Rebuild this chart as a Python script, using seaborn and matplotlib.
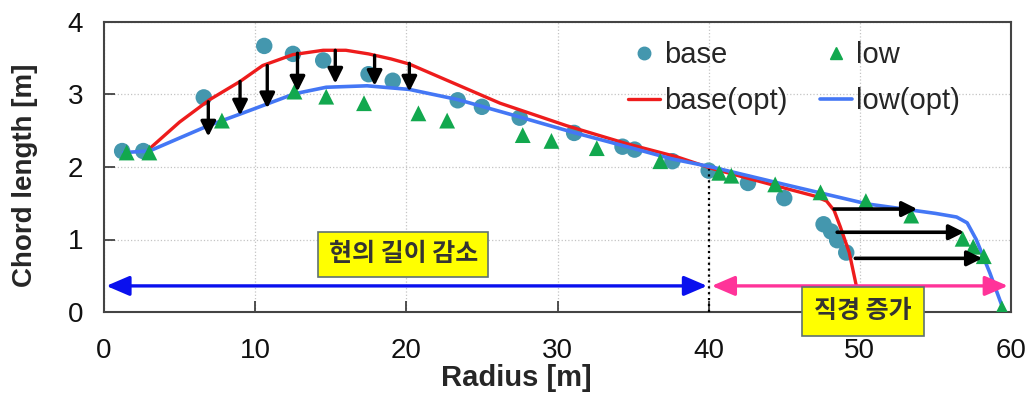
import matplotlib
matplotlib.use("Agg")
import matplotlib.pyplot as plt
from matplotlib.lines import Line2D
import seaborn as sns
import pandas as pd

# ---- data ----
base_r = [1.2, 2.6, 6.6, 10.6, 12.5, 14.5, 17.5, 19.1, 23.4, 25.0, 27.5, 31.1, 34.3, 35.1,
          37.6, 40.0, 42.6, 45.0, 47.6, 48.1, 48.5, 49.1]
base_c = [2.22, 2.22, 2.96, 3.67, 3.56, 3.47, 3.28, 3.19, 2.92, 2.83, 2.68, 2.47, 2.28, 2.24,
          2.08, 1.95, 1.78, 1.57, 1.21, 1.11, 0.99, 0.82]

low_r = [1.5, 3.0, 7.8, 12.6, 14.7, 17.2, 20.8, 22.7, 27.7, 29.6, 32.6, 36.8, 40.7, 41.5,
         44.4, 47.4, 50.4, 53.4, 56.8, 57.5, 58.2, 59.4]
low_c = [2.20, 2.20, 2.64, 3.04, 2.97, 2.88, 2.74, 2.64, 2.44, 2.36, 2.26, 2.08, 1.92, 1.88,
         1.76, 1.65, 1.53, 1.33, 1.01, 0.90, 0.77, 0.05]

opt_base_r = [3.0, 5.0, 7.0, 9.0, 10.5, 12.5, 14.5, 16.0, 17.5, 19.0, 20.2, 22.2, 26.2, 30.6,
              34.6, 37.9, 40.2, 42.5, 45.0, 47.0, 47.8, 48.3, 48.7, 49.3, 49.8, 50.0]
opt_base_c = [2.25, 2.62, 2.93, 3.18, 3.40, 3.55, 3.61, 3.61, 3.56, 3.49, 3.42, 3.24, 2.88, 2.57,
              2.32, 2.14, 1.98, 1.85, 1.71, 1.60, 1.53, 1.40, 1.18, 0.82, 0.33, 0.0]

opt_low_r = [1.3, 3.0, 5.0, 6.9, 9.0, 10.8, 12.6, 14.7, 17.4, 20.2, 23.4, 27.5, 31.0, 34.6,
             37.6, 40.2, 45.0, 50.5, 55.0, 56.4, 57.1, 57.7, 58.6, 59.5]
opt_low_c = [2.20, 2.22, 2.40, 2.57, 2.73, 2.87, 3.01, 3.10, 3.12, 3.07, 2.93, 2.69, 2.48, 2.28,
             2.11, 2.00, 1.76, 1.49, 1.36, 1.31, 1.23, 1.00, 0.54, 0.03]

down_r = [6.9, 9.0, 10.8, 12.8, 15.3, 17.9, 20.2]
down_top = [2.90, 3.18, 3.40, 3.57, 3.61, 3.54, 3.43]
down_tip = [2.42, 2.71, 2.81, 3.04, 3.15, 3.12, 3.04]

right_y = [1.42, 1.10, 0.74]
right_start = [48.3, 48.5, 49.7]
right_end = [53.8, 56.9, 58.1]

span_y = 0.36
span_blue = [0.15, 39.9]
span_pink = [40.2, 59.8]
boundary_r = 40.0
boundary_top = 1.97

label_reduce = "현의 길이 감소"
label_increase = "직경 증가"
legend_labels = ["base", "base(opt)", "low", "low(opt)"]

# ---- style ----
sns.set_style("ticks")
plt.rcParams["font.family"] = ["Liberation Sans", "Noto Sans CJK KR"]

c_base = "#4497ae"
c_low = "#12a84e"
c_red = "#ee1c1c"
c_blue = "#4477f5"
c_pink = "#ff3399"

fig = plt.figure(figsize=(10.35, 3.96), dpi=100)
ax = fig.add_axes([104 / 1035, 1 - 312 / 396, 907 / 1035, 290 / 396])

df_base = pd.DataFrame({"r": base_r, "c": base_c})
df_low = pd.DataFrame({"r": low_r, "c": low_c})
df_ob = pd.DataFrame({"r": opt_base_r, "c": opt_base_c})
df_ol = pd.DataFrame({"r": opt_low_r, "c": opt_low_c})

sns.scatterplot(data=df_base, x="r", y="c", ax=ax, marker="o", s=140, color=c_base,
                edgecolor="none", zorder=2, legend=False)
sns.lineplot(data=df_ob, x="r", y="c", ax=ax, color=c_red, lw=2.4, sort=False,
             estimator=None, zorder=3, legend=False)
sns.lineplot(data=df_ol, x="r", y="c", ax=ax, color=c_blue, lw=2.6, sort=False,
             estimator=None, zorder=3, legend=False)
sns.scatterplot(data=df_low, x="r", y="c", ax=ax, marker="^", s=130, color=c_low,
                edgecolor="none", zorder=4, legend=False)

# black arrows
for r, t0, t1 in zip(down_r, down_top, down_tip):
    ax.annotate("", xy=(r, t1), xytext=(r, t0),
                arrowprops=dict(arrowstyle="-|>,head_length=0.6,head_width=0.3",
                                color="black", lw=2.4, mutation_scale=15,
                                shrinkA=0, shrinkB=0), zorder=6)
for y, x0, x1 in zip(right_y, right_start, right_end):
    ax.annotate("", xy=(x1, y), xytext=(x0, y),
                arrowprops=dict(arrowstyle="-|>,head_length=0.6,head_width=0.3",
                                color="black", lw=2.6, mutation_scale=15,
                                shrinkA=0, shrinkB=0), zorder=6)

# span arrows
ax.annotate("", xy=(span_blue[0], span_y), xytext=(span_blue[1], span_y),
            arrowprops=dict(arrowstyle="<|-|>,head_length=0.7,head_width=0.3",
                            color="#0a10ee", lw=2.4, mutation_scale=20,
                            shrinkA=0, shrinkB=0), zorder=5)
ax.annotate("", xy=(span_pink[0], span_y), xytext=(span_pink[1], span_y),
            arrowprops=dict(arrowstyle="<|-|>,head_length=0.7,head_width=0.3",
                            color=c_pink, lw=2.4, mutation_scale=20,
                            shrinkA=0, shrinkB=0), zorder=5)
ax.plot([boundary_r, boundary_r], [0, boundary_top], color="black", ls=":", lw=1.6, zorder=5)

box = dict(boxstyle="square,pad=0.42", facecolor="#ffff00", edgecolor="#5f7272", lw=1.2)
ax.text(19.8, 0.80, label_reduce, ha="center", va="center", fontsize=18, fontweight="bold",
        color="#333333", family=["Noto Sans CJK KR"], bbox=box, zorder=7)
box2 = dict(boxstyle="square,pad=0.5", facecolor="#ffff00", edgecolor="#5f7272", lw=1.2)
ax.text(50.2, 0.01, label_increase, ha="center", va="center", fontsize=18, fontweight="bold",
        color="#333333", family=["Noto Sans CJK KR"], bbox=box2, zorder=7, clip_on=False)

# axes
ax.set_xlim(0, 60)
ax.set_ylim(0, 4)
ax.set_xticks(range(0, 61, 10))
ax.set_yticks(range(0, 5))
ax.grid(True, ls=":", color="#c4c4c4", lw=0.9)
ax.set_axisbelow(True)
ax.tick_params(axis="both", direction="in", length=8, width=1.2, labelsize=20,
               color="#333333", labelcolor="#111111")
ax.tick_params(axis="x", pad=19)
ax.tick_params(axis="y", pad=15)
for sp in ax.spines.values():
    sp.set_color("#444444")
    sp.set_linewidth(1.5)
    sp.set_visible(True)

ax.set_xlabel("Radius [m]", fontsize=21, fontweight="bold")
ax.set_ylabel("Chord length [m]", fontsize=20, fontweight="bold")
ax.xaxis.set_label_coords(0.455, -0.18)
ax.yaxis.set_label_coords(-0.073, 0.47)

handles = [
    Line2D([], [], marker="o", ls="none", color=c_base, markersize=9),
    Line2D([], [], color=c_red, lw=2.4),
    Line2D([], [], marker="^", ls="none", color=c_low, markersize=9),
    Line2D([], [], color=c_blue, lw=2.6),
]
ax.legend(handles, legend_labels, ncol=2, frameon=False, fontsize=21,
          loc="upper left", bbox_to_anchor=(628 / 1035, 1 - 41 / 396),
          bbox_transform=fig.transFigure, borderpad=0, handlelength=1.1,
          handletextpad=0.15, columnspacing=1.1, labelspacing=0.62, borderaxespad=0)

fig.savefig("out.png", dpi=100)
